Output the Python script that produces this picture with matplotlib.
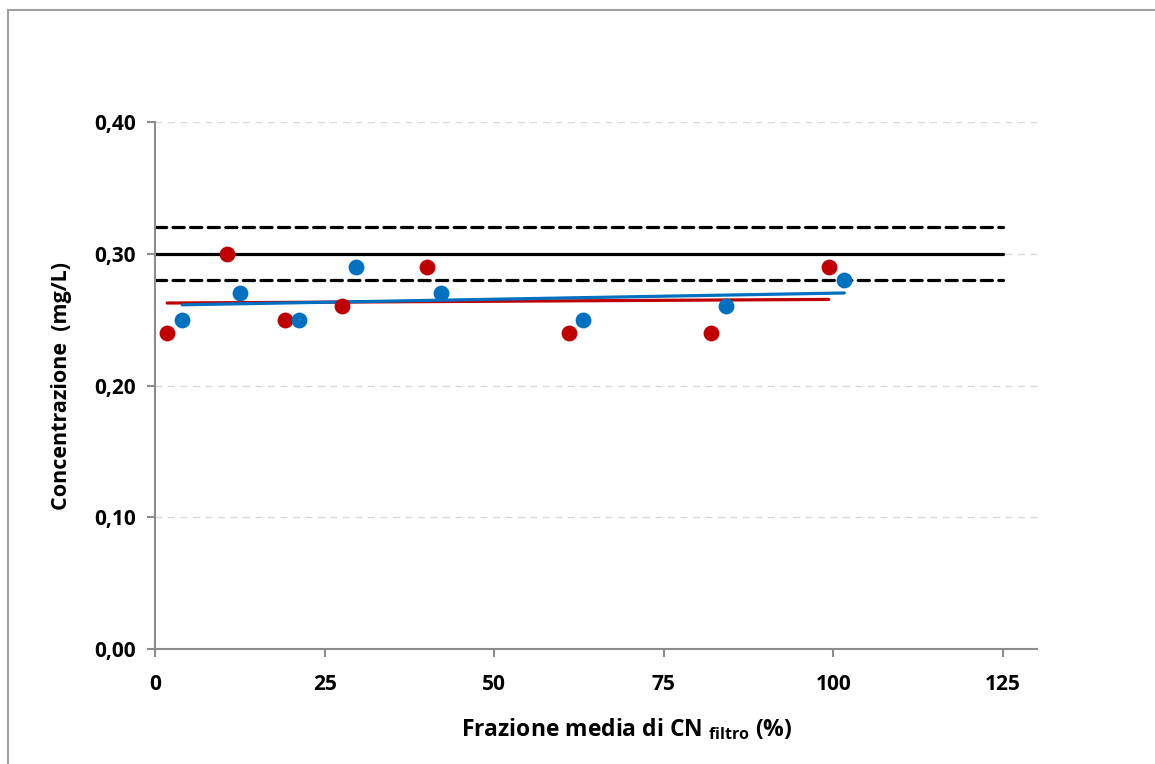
import numpy as np
import matplotlib
matplotlib.use("Agg")
import matplotlib.pyplot as plt
from matplotlib.lines import Line2D
from matplotlib.ticker import FuncFormatter

# Data
red_x = [1.8, 10.6, 19.1, 27.6, 40.1, 61.0, 81.9, 99.3]
red_y = [0.24, 0.30, 0.25, 0.26, 0.29, 0.24, 0.24, 0.29]
blue_x = [4.0, 12.5, 21.2, 29.6, 42.2, 63.1, 84.1, 101.6]
blue_y = [0.25, 0.27, 0.25, 0.29, 0.27, 0.25, 0.26, 0.28]
ref_value = 0.30
limit_low = 0.28
limit_high = 0.32
ref_x = [0, 125]
x_ticks = [0, 25, 50, 75, 100, 125]
y_ticks = [0.0, 0.1, 0.2, 0.3, 0.4]

RED = "#C00000"
BLUE = "#0070C0"
GRAY = "#8C8C8C"

FONT = ['Open Sans', 'DejaVu Sans']
plt.rcParams['font.family'] = FONT
plt.rcParams['mathtext.fontset'] = 'custom'
plt.rcParams['mathtext.rm'] = 'Open Sans'
plt.rcParams['mathtext.bf'] = 'Open Sans:bold'

fig = plt.figure(figsize=(11.55, 7.64), dpi=100)
ax = fig.add_axes([155/1155, 1-649/764, (1037-155)/1155, (649-122)/764])

# figure border (left and top visible)
fig.add_artist(Line2D([8/1155, 8/1155], [0, 1-10/764], color="#A0A0A0", lw=1.5, transform=fig.transFigure))
fig.add_artist(Line2D([8/1155, 1], [1-10/764, 1-10/764], color="#A0A0A0", lw=1.5, transform=fig.transFigure))

# grid
for yv in y_ticks[1:]:
    ax.axhline(yv, color="#D9D9D9", lw=1.0, ls=(0, (5, 4)), zorder=1)

# reference lines
ax.plot(ref_x, [ref_value, ref_value], color="black", lw=2.3, zorder=2, solid_capstyle='round')
ax.plot(ref_x, [limit_high, limit_high], color="black", lw=2.3, ls=(0, (3.5, 2.0)), zorder=2, dash_capstyle='round')
ax.plot(ref_x, [limit_low, limit_low], color="black", lw=2.3, ls=(0, (3.5, 2.0)), zorder=2, dash_capstyle='round')

# scatter
ax.scatter(red_x, red_y, s=130, color=RED, zorder=4, linewidths=0)
ax.scatter(blue_x, blue_y, s=130, color=BLUE, zorder=4, linewidths=0)

# trend lines
for xs, ys, c in [(red_x, red_y, RED), (blue_x, blue_y, BLUE)]:
    p = np.polyfit(xs, ys, 1)
    xx = np.array([min(xs), max(xs)])
    ax.plot(xx, np.polyval(p, xx), color=c, lw=2.3, zorder=3, solid_capstyle='round')

ax.set_xlim(0, 130)
ax.set_ylim(0, 0.40)
ax.set_xticks(x_ticks)
ax.set_yticks(y_ticks)
ax.yaxis.set_major_formatter(FuncFormatter(lambda v, p: f"{v:.2f}".replace(".", ",")))

for s in ["top", "right"]:
    ax.spines[s].set_visible(False)
for s in ["left", "bottom"]:
    ax.spines[s].set_color(GRAY)
    ax.spines[s].set_linewidth(1.5)
ax.tick_params(axis="both", direction="out", length=6, width=1.5, color=GRAY,
               labelsize=15)
ax.tick_params(axis="x", pad=12)
ax.tick_params(axis="y", pad=8)
for lab in ax.get_xticklabels() + ax.get_yticklabels():
    lab.set_fontweight("bold")

ax.set_xlabel(r"Frazione media di CN $_{\mathbf{filtro}}$ (%)", fontsize=16.5, fontweight="bold", labelpad=18)
ax.xaxis.set_label_coords((627-155)/882, -(729-649)/527)
ax.xaxis.label.set_va("center")
ax.set_ylabel("Concentrazione  (mg/L)", fontsize=15.5, fontweight="bold")
ax.yaxis.set_label_coords(-(155-62)/882, 0.5)
ax.yaxis.label.set_va("center")

fig.savefig("out.png", dpi=100)
